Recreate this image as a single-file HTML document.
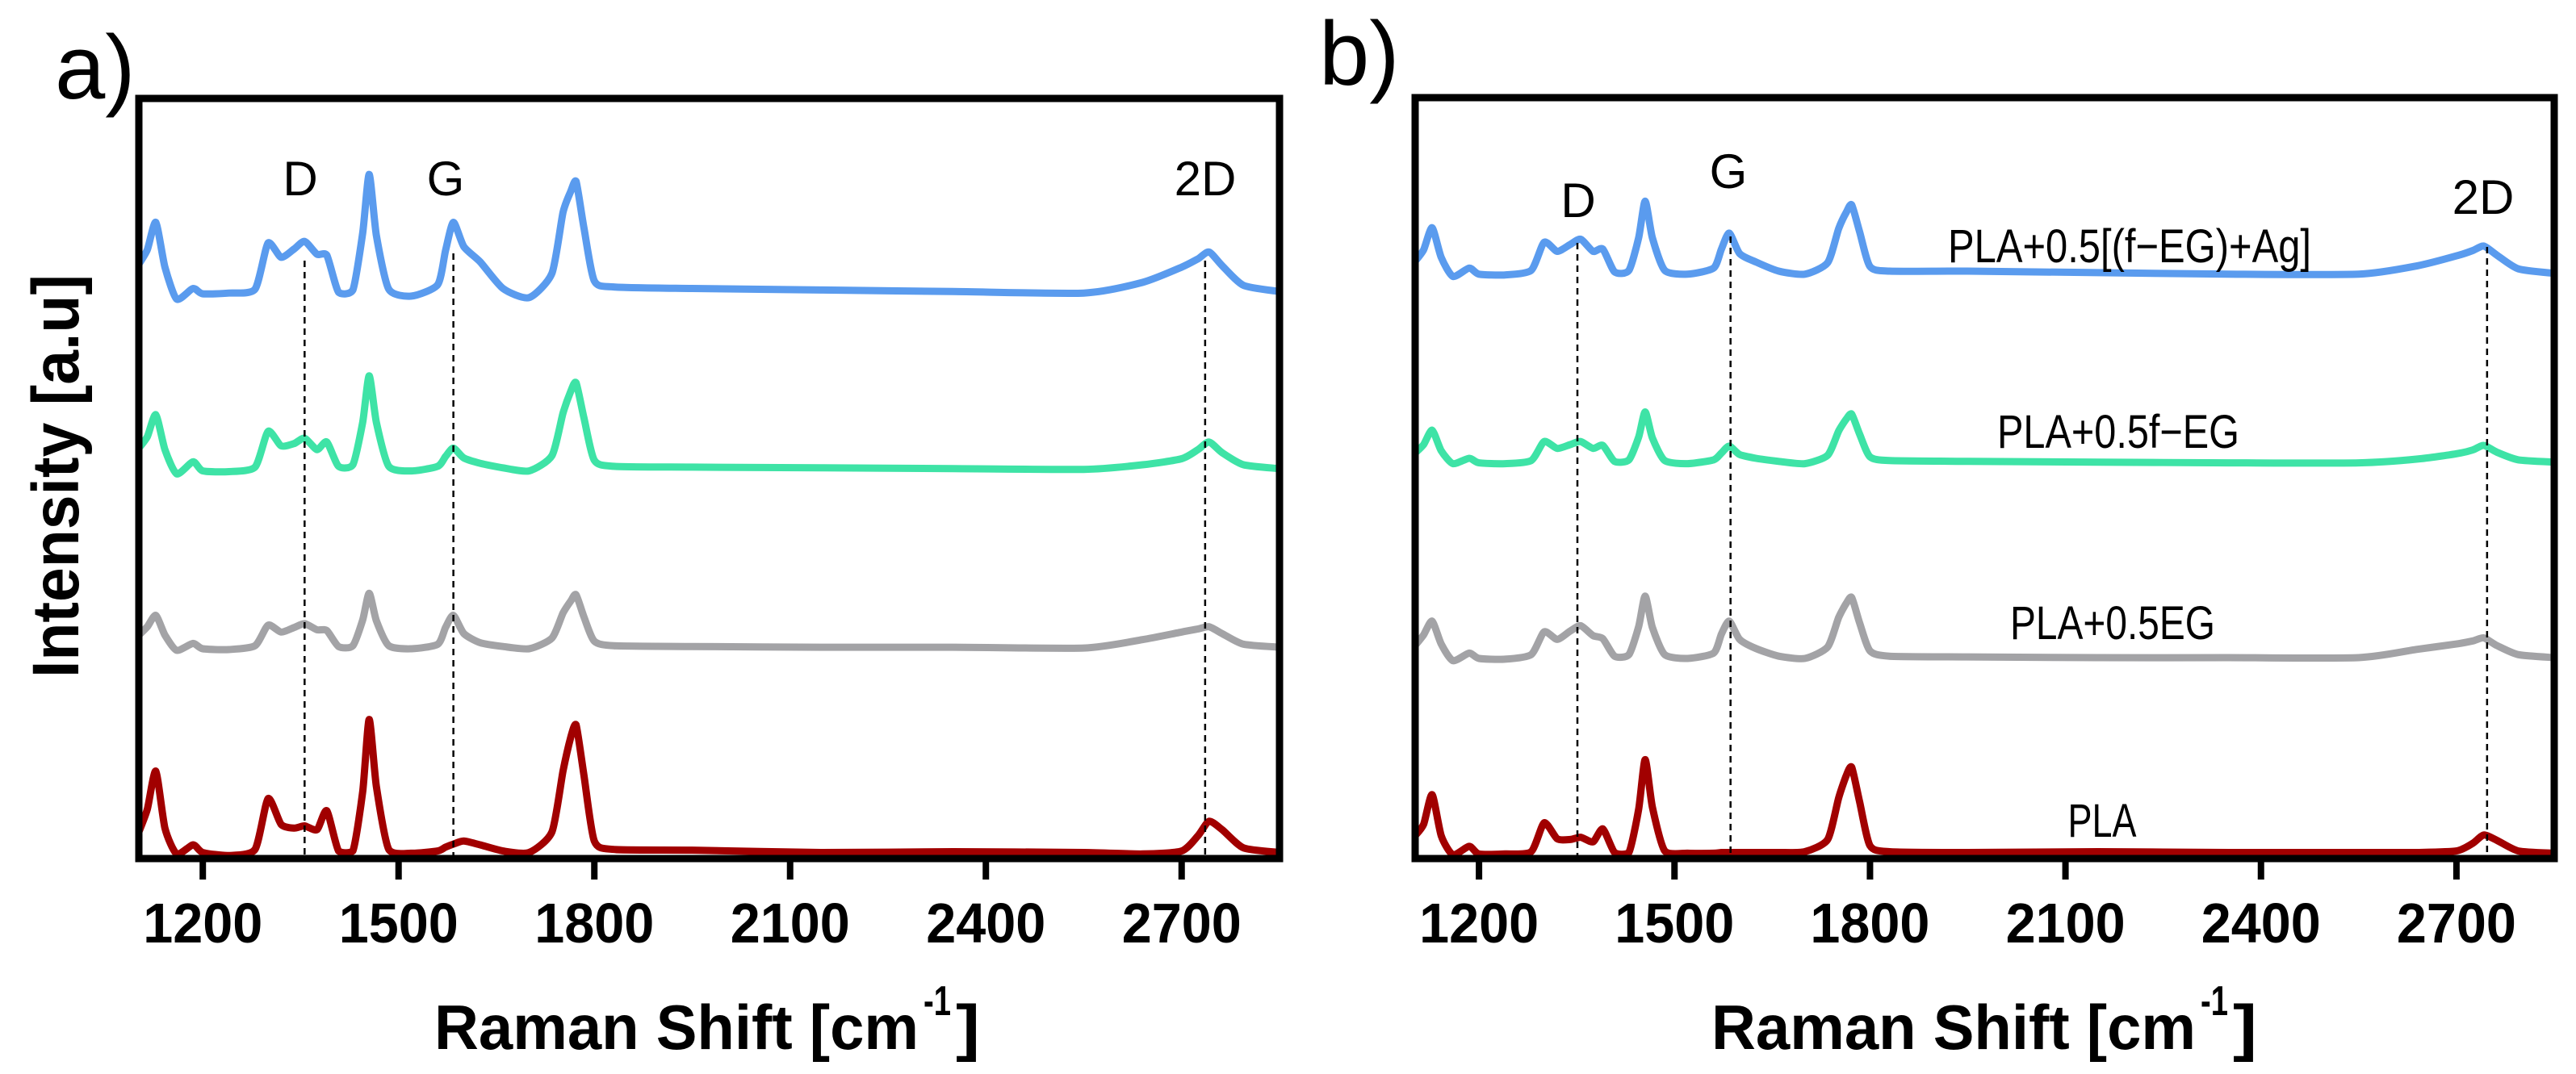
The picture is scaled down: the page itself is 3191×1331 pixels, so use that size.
<!DOCTYPE html>
<html><head><meta charset="utf-8"><style>
html,body{margin:0;padding:0;background:#fff;}
svg{display:block;}
text{font-family:"Liberation Sans",sans-serif;}
</style></head><body>
<svg id="fig" width="3191" height="1331" viewBox="0 0 3191 1331" xmlns="http://www.w3.org/2000/svg">
<defs>
<clipPath id="clipA"><rect x="176" y="126" width="1405" height="934"/></clipPath>
<clipPath id="clipB"><rect x="1757" y="125" width="1403" height="935"/></clipPath>
</defs>
</svg>
<script>
const ramanShift = [1102,1115,1128,1142,1160,1185,1200,1240,1280,1300,1320,1340,1356,1375,1390,1408,1430,1445,1455,1466,1485,1520,1560,1572,1584,1600,1625,1660,1700,1735,1752,1764,1772,1784,1800,1830,1950,2150,2350,2550,2640,2700,2725,2742,2762,2795,2850];
const xTicks = [1200,1500,1800,2100,2400,2700];
const xTickLabels = ["1200","1500","1800","2100","2400","2700"];
const seriesNames = ["PLA+0.5[(f\u2212EG)+Ag]","PLA+0.5f\u2212EG","PLA+0.5EG","PLA"];
const seriesColors = ["#5a9bee","#3ee3a6","#a3a3a6","#a10000"];
const peakLinesA = [1356,1584,2736];
const peakLinesB = [1351,1586,2747];
const peakLabels = ["D","G","2D"];
const aBlue = [78.2,80.1,83.7,77.8,73.6,75.0,74.3,74.4,74.9,81.0,79.1,80.2,81.2,79.5,79.4,74.5,74.8,82.3,90.0,82.0,74.9,74.0,75.5,80.0,83.7,80.5,78.5,75.0,73.8,77.0,85.0,87.8,89.1,83.0,76.0,75.2,75.0,74.8,74.6,74.4,75.8,77.8,78.9,79.8,78.0,75.4,74.6];
const aGreen = [54.0,55.5,58.4,53.8,50.6,52.2,51.0,50.9,51.5,56.2,54.3,54.6,55.3,53.8,54.8,51.6,51.8,57.4,63.5,57.4,51.6,51.0,51.6,52.9,54.0,52.7,52.0,51.4,51.0,53.0,58.6,61.5,62.6,58.0,52.4,51.6,51.5,51.4,51.3,51.2,51.8,52.6,53.8,54.8,53.4,51.8,51.3];
const aGray = [29.4,30.5,32.0,29.4,27.4,28.3,27.6,27.5,28.0,30.7,29.8,30.4,30.9,30.1,30.0,27.9,28.0,31.4,34.9,31.3,28.0,27.6,28.2,30.4,32.0,29.6,28.4,27.9,27.6,29.0,32.3,33.9,34.7,31.8,28.6,28.0,27.9,27.8,27.8,27.7,28.8,29.8,30.2,30.5,29.6,28.2,27.8];
const aRed = [3.5,6.5,11.5,4.0,0.6,1.8,0.8,0.4,1.2,7.9,4.5,4.0,4.3,3.8,6.3,1.0,1.0,8.8,18.3,9.5,1.2,0.7,1.0,1.5,1.9,2.3,1.8,1.0,0.8,3.5,11.5,16.0,17.6,11.0,2.3,1.2,1.1,0.8,0.9,0.8,0.6,1.0,3.0,4.9,3.8,1.4,0.8];
const bBlue = [78.5,80.0,82.9,79.0,76.5,77.6,76.8,76.7,77.3,81.0,79.8,80.7,81.4,79.8,80.1,77.1,77.3,81.6,86.4,81.6,77.3,76.8,77.6,80.1,82.2,79.5,78.4,77.2,76.8,78.3,82.8,85.0,85.9,82.4,77.8,77.2,77.2,77.0,76.8,76.8,77.9,79.2,79.9,80.5,79.3,77.5,76.9];
const bGreen = [53.3,54.4,56.3,53.6,51.9,52.6,52.0,51.9,52.3,54.8,53.9,54.4,54.8,53.9,54.3,52.2,52.4,55.4,58.7,55.3,52.3,51.9,52.4,53.3,54.2,53.1,52.6,52.2,51.9,53.0,56.2,57.8,58.4,55.8,52.8,52.3,52.2,52.1,52.0,52.0,52.5,53.2,53.7,54.3,53.4,52.4,52.1];
const bGray = [28.0,29.4,31.2,28.2,26.0,27.0,26.3,26.2,26.8,29.8,28.8,29.9,30.6,29.3,28.9,26.6,26.8,30.5,34.5,30.4,26.8,26.3,27.0,29.5,31.2,28.8,27.6,26.6,26.3,27.8,31.7,33.6,34.3,31.0,27.3,26.6,26.5,26.4,26.4,26.4,27.5,28.2,28.6,29.0,28.0,26.8,26.4];
const bRed = [3.0,4.5,8.4,3.0,0.5,1.6,0.6,0.6,0.9,4.7,2.6,2.5,2.8,2.2,3.9,0.8,0.8,6.5,13.0,6.8,1.0,0.7,0.7,0.8,0.8,0.8,0.8,0.8,0.9,2.5,8.0,11.0,12.0,7.5,1.7,0.9,0.8,0.9,0.8,0.8,0.8,1.0,2.0,3.1,2.4,1.0,0.7];

const NS="http://www.w3.org/2000/svg";
const svg=document.getElementById('fig');
function mk(tag,attrs,parent){const e=document.createElementNS(NS,tag);for(const k in attrs)e.setAttribute(k,attrs[k]);(parent||svg).appendChild(e);return e;}

function panel(P){
  const g=mk('g',{});
  
  
  const X=v=>P.left+(v-1102)/(2850-1102)*(P.right-P.left);
  const Y=u=>P.bottom-u*(P.bottom-P.top)/100;
  const lt=mk('text',{x:P.letterX,y:P.letterY,'font-size':112,fill:'#000'},g);
  lt.textContent=P.letter;
  
  
  const sg=mk('g',{'clip-path':'url(#'+P.clip+')'},g);
  P.series.forEach((arr,si)=>{
    const pts=arr.map((u,i)=>[X(ramanShift[i]),Y(u)]);
    let d='M'+pts[0][0].toFixed(1)+','+pts[0][1].toFixed(1);
    for(let i=0;i<pts.length-1;i++){
      const p0=pts[Math.max(0,i-1)],p1=pts[i],p2=pts[i+1],p3=pts[Math.min(pts.length-1,i+2)];
      const t=0.11;
      const lo=Math.min(p1[1],p2[1]),hi=Math.max(p1[1],p2[1]);
      const cl=v=>Math.max(lo-3,Math.min(hi+3,v));
      const c1=[p1[0]+(p2[0]-p0[0])*t,cl(p1[1]+(p2[1]-p0[1])*t)];
      const c2=[p2[0]-(p3[0]-p1[0])*t,cl(p2[1]-(p3[1]-p1[1])*t)];
      d+=' C'+c1[0].toFixed(1)+','+c1[1].toFixed(1)+' '+c2[0].toFixed(1)+','+c2[1].toFixed(1)+' '+p2[0].toFixed(1)+','+p2[1].toFixed(1);
    }
    const path=mk('path',{d:d,fill:'none',stroke:seriesColors[si],'stroke-width':9,'stroke-linejoin':'round','stroke-linecap':'round'},sg);
    
    
  });
  P.peaks.forEach((v,i)=>{
    const ln=mk('line',{x1:X(v),x2:X(v),y1:P.peakTop[i],y2:P.bottom,stroke:'#000','stroke-width':2.5,'stroke-dasharray':'8 6'},g);
    
    
    const tx=mk('text',{x:P.peakLabelX[i],y:P.peakLabelY[i],'font-size':60,'text-anchor':'middle',fill:'#000'},g);
    tx.textContent=peakLabels[i];
    
    
  });
  const fr=mk('rect',{x:P.left,y:P.top,width:P.right-P.left,height:P.bottom-P.top,fill:'none',stroke:'#000','stroke-width':9},g);
  
  
  xTicks.forEach((v,i)=>{
    const tk=mk('line',{x1:X(v),x2:X(v),y1:P.bottom,y2:P.bottom+26,stroke:'#000','stroke-width':8},g);
    
    
    const tl=mk('text',{x:X(v),y:1168,'font-size':70,'font-weight':'bold','text-anchor':'middle',textLength:148,lengthAdjust:'spacingAndGlyphs',fill:'#000'},g);
    tl.textContent=xTickLabels[i];
    
    
  });
  const xt=mk('g',{},g);
  
  
  const t1=mk('text',{x:P.titleX,y:1300,'font-size':78,'font-weight':'bold',textLength:600,lengthAdjust:'spacingAndGlyphs',fill:'#000'},xt);
  t1.textContent='Raman Shift [cm';
  const t2=mk('text',{x:P.titleX+606,y:1258,'font-size':52,'font-weight':'bold',textLength:34,lengthAdjust:'spacingAndGlyphs',fill:'#000'},xt);
  t2.textContent='-1';
  const t3=mk('text',{x:P.titleX+646,y:1300,'font-size':78,'font-weight':'bold',textLength:30,lengthAdjust:'spacingAndGlyphs',fill:'#000'},xt);
  t3.textContent=']';
  return g;
}

panel({id:'panel-a',letter:'a)',letterX:68,letterY:122,left:172,right:1585,top:122,bottom:1064,clip:'clipA',
  series:[aBlue,aGreen,aGray,aRed],peaks:peakLinesA,peakTop:[323,314,323],
  peakLabelX:[372,552,1493],peakLabelY:[242,242,242],titleX:538});
panel({id:'panel-b',letter:'b)',letterX:1634,letterY:105,left:1753,right:3164,top:121,bottom:1064,clip:'clipB',
  series:[bBlue,bGreen,bGray,bRed],peaks:peakLinesB,peakTop:[301,293,306],
  peakLabelX:[1955,2141,3076],peakLabelY:[269,233,265],titleX:2120});

const yt=mk('text',{x:0,y:0,'font-size':82,'font-weight':'bold','text-anchor':'middle',textLength:500,lengthAdjust:'spacingAndGlyphs',fill:'#000',transform:'translate(97,590) rotate(-90)'});
yt.textContent='Intensity [a.u]';



const labX=[2638,2624,2617,2604];
const labY=[325,555,792,1037];
const labW=[450,300,254,85];
seriesNames.forEach((n,i)=>{
  const t=mk('text',{x:labX[i],y:labY[i],'font-size':58,'text-anchor':'middle',textLength:labW[i],lengthAdjust:'spacingAndGlyphs',fill:'#000'});
  t.textContent=n;
  
  
});
</script>
</body></html>
